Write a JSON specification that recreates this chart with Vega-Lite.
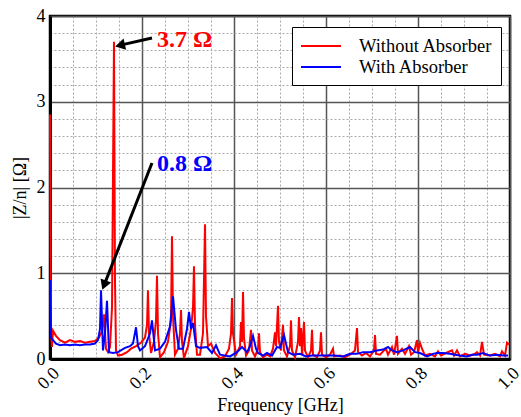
{
  "$schema": "https://vega.github.io/schema/vega-lite/v6.json",
  "width": 460,
  "height": 343,
  "autosize": {"type": "none"},
  "padding": {"left": 50, "top": 16, "right": 11, "bottom": 58},
  "background": "white",
  "config": {
    "view": {"stroke": "black", "strokeWidth": 2.5},
    "font": "Liberation Serif"
  },
  "datasets": {
    "z": [
      {"f": 0, "z": 2.85, "series": "Without Absorber"},
      {"f": 0.0022, "z": 0.30, "series": "Without Absorber"},
      {"f": 0.0043, "z": 0.14, "series": "Without Absorber"},
      {"f": 0.0065, "z": 0.33, "series": "Without Absorber"},
      {"f": 0.013, "z": 0.27, "series": "Without Absorber"},
      {"f": 0.0217, "z": 0.22, "series": "Without Absorber"},
      {"f": 0.0326, "z": 0.19, "series": "Without Absorber"},
      {"f": 0.0435, "z": 0.22, "series": "Without Absorber"},
      {"f": 0.0543, "z": 0.2, "series": "Without Absorber"},
      {"f": 0.0652, "z": 0.21, "series": "Without Absorber"},
      {"f": 0.0761, "z": 0.19, "series": "Without Absorber"},
      {"f": 0.087, "z": 0.2, "series": "Without Absorber"},
      {"f": 0.0978, "z": 0.21, "series": "Without Absorber"},
      {"f": 0.1065, "z": 0.25, "series": "Without Absorber"},
      {"f": 0.113, "z": 0.32, "series": "Without Absorber"},
      {"f": 0.1174, "z": 0.52, "series": "Without Absorber"},
      {"f": 0.1217, "z": 0.12, "series": "Without Absorber"},
      {"f": 0.1261, "z": 0.08, "series": "Without Absorber"},
      {"f": 0.1304, "z": 0.14, "series": "Without Absorber"},
      {"f": 0.1348, "z": 0.6, "series": "Without Absorber"},
      {"f": 0.1391, "z": 3.7, "series": "Without Absorber"},
      {"f": 0.1413, "z": 0.9, "series": "Without Absorber"},
      {"f": 0.1435, "z": 0.1, "series": "Without Absorber"},
      {"f": 0.1478, "z": 0.04, "series": "Without Absorber"},
      {"f": 0.1565, "z": 0.05, "series": "Without Absorber"},
      {"f": 0.1674, "z": 0.08, "series": "Without Absorber"},
      {"f": 0.1761, "z": 0.12, "series": "Without Absorber"},
      {"f": 0.187, "z": 0.15, "series": "Without Absorber"},
      {"f": 0.1978, "z": 0.19, "series": "Without Absorber"},
      {"f": 0.2065, "z": 0.25, "series": "Without Absorber"},
      {"f": 0.2109, "z": 0.4, "series": "Without Absorber"},
      {"f": 0.213, "z": 0.8, "series": "Without Absorber"},
      {"f": 0.2152, "z": 0.3, "series": "Without Absorber"},
      {"f": 0.2196, "z": 0.07, "series": "Without Absorber"},
      {"f": 0.2261, "z": 0.2, "series": "Without Absorber"},
      {"f": 0.2304, "z": 0.45, "series": "Without Absorber"},
      {"f": 0.2326, "z": 0.97, "series": "Without Absorber"},
      {"f": 0.2348, "z": 0.3, "series": "Without Absorber"},
      {"f": 0.2391, "z": 0.02, "series": "Without Absorber"},
      {"f": 0.2478, "z": 0.08, "series": "Without Absorber"},
      {"f": 0.2565, "z": 0.2, "series": "Without Absorber"},
      {"f": 0.263, "z": 0.45, "series": "Without Absorber"},
      {"f": 0.2652, "z": 1.43, "series": "Without Absorber"},
      {"f": 0.2674, "z": 0.5, "series": "Without Absorber"},
      {"f": 0.2717, "z": 0.05, "series": "Without Absorber"},
      {"f": 0.2783, "z": 0.12, "series": "Without Absorber"},
      {"f": 0.2826, "z": 0.3, "series": "Without Absorber"},
      {"f": 0.2848, "z": 0.57, "series": "Without Absorber"},
      {"f": 0.287, "z": 0.2, "series": "Without Absorber"},
      {"f": 0.2913, "z": 0.01, "series": "Without Absorber"},
      {"f": 0.3, "z": 0.15, "series": "Without Absorber"},
      {"f": 0.3065, "z": 0.35, "series": "Without Absorber"},
      {"f": 0.3109, "z": 0.6, "series": "Without Absorber"},
      {"f": 0.313, "z": 1.08, "series": "Without Absorber"},
      {"f": 0.3152, "z": 0.4, "series": "Without Absorber"},
      {"f": 0.3196, "z": 0.05, "series": "Without Absorber"},
      {"f": 0.3261, "z": 0.05, "series": "Without Absorber"},
      {"f": 0.3326, "z": 0.3, "series": "Without Absorber"},
      {"f": 0.337, "z": 1.57, "series": "Without Absorber"},
      {"f": 0.3391, "z": 0.5, "series": "Without Absorber"},
      {"f": 0.3435, "z": 0.15, "series": "Without Absorber"},
      {"f": 0.35, "z": 0.18, "series": "Without Absorber"},
      {"f": 0.3587, "z": 0.07, "series": "Without Absorber"},
      {"f": 0.3696, "z": 0.01, "series": "Without Absorber"},
      {"f": 0.3804, "z": 0.03, "series": "Without Absorber"},
      {"f": 0.3891, "z": 0.12, "series": "Without Absorber"},
      {"f": 0.3935, "z": 0.3, "series": "Without Absorber"},
      {"f": 0.3957, "z": 0.71, "series": "Without Absorber"},
      {"f": 0.3978, "z": 0.3, "series": "Without Absorber"},
      {"f": 0.4043, "z": 0.05, "series": "Without Absorber"},
      {"f": 0.413, "z": 0.15, "series": "Without Absorber"},
      {"f": 0.4152, "z": 0.43, "series": "Without Absorber"},
      {"f": 0.4174, "z": 0.2, "series": "Without Absorber"},
      {"f": 0.4196, "z": 0.78, "series": "Without Absorber"},
      {"f": 0.4217, "z": 0.25, "series": "Without Absorber"},
      {"f": 0.4261, "z": 0.04, "series": "Without Absorber"},
      {"f": 0.4326, "z": 0.1, "series": "Without Absorber"},
      {"f": 0.437, "z": 0.34, "series": "Without Absorber"},
      {"f": 0.4391, "z": 0.1, "series": "Without Absorber"},
      {"f": 0.4457, "z": 0.03, "series": "Without Absorber"},
      {"f": 0.4522, "z": 0.12, "series": "Without Absorber"},
      {"f": 0.4543, "z": 0.3, "series": "Without Absorber"},
      {"f": 0.4565, "z": 0.08, "series": "Without Absorber"},
      {"f": 0.463, "z": 0.02, "series": "Without Absorber"},
      {"f": 0.4717, "z": 0.05, "series": "Without Absorber"},
      {"f": 0.4783, "z": 0.03, "series": "Without Absorber"},
      {"f": 0.4848, "z": 0.12, "series": "Without Absorber"},
      {"f": 0.4891, "z": 0.31, "series": "Without Absorber"},
      {"f": 0.4913, "z": 0.15, "series": "Without Absorber"},
      {"f": 0.4957, "z": 0.62, "series": "Without Absorber"},
      {"f": 0.4978, "z": 0.2, "series": "Without Absorber"},
      {"f": 0.5022, "z": 0.1, "series": "Without Absorber"},
      {"f": 0.5065, "z": 0.4, "series": "Without Absorber"},
      {"f": 0.5087, "z": 0.1, "series": "Without Absorber"},
      {"f": 0.5152, "z": 0.03, "series": "Without Absorber"},
      {"f": 0.5217, "z": 0.15, "series": "Without Absorber"},
      {"f": 0.5239, "z": 0.45, "series": "Without Absorber"},
      {"f": 0.5261, "z": 0.1, "series": "Without Absorber"},
      {"f": 0.5326, "z": 0.02, "series": "Without Absorber"},
      {"f": 0.5391, "z": 0.2, "series": "Without Absorber"},
      {"f": 0.5413, "z": 0.49, "series": "Without Absorber"},
      {"f": 0.5435, "z": 0.15, "series": "Without Absorber"},
      {"f": 0.5457, "z": 0.36, "series": "Without Absorber"},
      {"f": 0.5478, "z": 0.05, "series": "Without Absorber"},
      {"f": 0.5522, "z": 0.43, "series": "Without Absorber"},
      {"f": 0.5543, "z": 0.1, "series": "Without Absorber"},
      {"f": 0.5609, "z": 0.02, "series": "Without Absorber"},
      {"f": 0.5674, "z": 0.1, "series": "Without Absorber"},
      {"f": 0.5696, "z": 0.34, "series": "Without Absorber"},
      {"f": 0.5717, "z": 0.05, "series": "Without Absorber"},
      {"f": 0.5804, "z": 0.02, "series": "Without Absorber"},
      {"f": 0.587, "z": 0.1, "series": "Without Absorber"},
      {"f": 0.5891, "z": 0.31, "series": "Without Absorber"},
      {"f": 0.5913, "z": 0.05, "series": "Without Absorber"},
      {"f": 0.6, "z": 0.02, "series": "Without Absorber"},
      {"f": 0.6087, "z": 0.05, "series": "Without Absorber"},
      {"f": 0.6152, "z": 0.12, "series": "Without Absorber"},
      {"f": 0.6174, "z": 0.03, "series": "Without Absorber"},
      {"f": 0.6304, "z": 0.04, "series": "Without Absorber"},
      {"f": 0.6413, "z": 0.02, "series": "Without Absorber"},
      {"f": 0.6522, "z": 0.05, "series": "Without Absorber"},
      {"f": 0.663, "z": 0.1, "series": "Without Absorber"},
      {"f": 0.6674, "z": 0.36, "series": "Without Absorber"},
      {"f": 0.6696, "z": 0.08, "series": "Without Absorber"},
      {"f": 0.6783, "z": 0.04, "series": "Without Absorber"},
      {"f": 0.687, "z": 0.07, "series": "Without Absorber"},
      {"f": 0.6957, "z": 0.03, "series": "Without Absorber"},
      {"f": 0.7043, "z": 0.1, "series": "Without Absorber"},
      {"f": 0.7065, "z": 0.28, "series": "Without Absorber"},
      {"f": 0.7087, "z": 0.06, "series": "Without Absorber"},
      {"f": 0.7174, "z": 0.05, "series": "Without Absorber"},
      {"f": 0.7261, "z": 0.1, "series": "Without Absorber"},
      {"f": 0.7304, "z": 0.12, "series": "Without Absorber"},
      {"f": 0.7348, "z": 0.05, "series": "Without Absorber"},
      {"f": 0.7435, "z": 0.14, "series": "Without Absorber"},
      {"f": 0.7478, "z": 0.05, "series": "Without Absorber"},
      {"f": 0.7543, "z": 0.27, "series": "Without Absorber"},
      {"f": 0.7565, "z": 0.06, "series": "Without Absorber"},
      {"f": 0.7652, "z": 0.12, "series": "Without Absorber"},
      {"f": 0.7717, "z": 0.06, "series": "Without Absorber"},
      {"f": 0.7804, "z": 0.15, "series": "Without Absorber"},
      {"f": 0.7848, "z": 0.05, "series": "Without Absorber"},
      {"f": 0.7913, "z": 0.08, "series": "Without Absorber"},
      {"f": 0.7978, "z": 0.22, "series": "Without Absorber"},
      {"f": 0.8, "z": 0.08, "series": "Without Absorber"},
      {"f": 0.8043, "z": 0.19, "series": "Without Absorber"},
      {"f": 0.8087, "z": 0.12, "series": "Without Absorber"},
      {"f": 0.8152, "z": 0.04, "series": "Without Absorber"},
      {"f": 0.8261, "z": 0.06, "series": "Without Absorber"},
      {"f": 0.837, "z": 0.03, "series": "Without Absorber"},
      {"f": 0.8435, "z": 0.09, "series": "Without Absorber"},
      {"f": 0.85, "z": 0.04, "series": "Without Absorber"},
      {"f": 0.8609, "z": 0.07, "series": "Without Absorber"},
      {"f": 0.8739, "z": 0.1, "series": "Without Absorber"},
      {"f": 0.8783, "z": 0.04, "series": "Without Absorber"},
      {"f": 0.8848, "z": 0.1, "series": "Without Absorber"},
      {"f": 0.8913, "z": 0.03, "series": "Without Absorber"},
      {"f": 0.9022, "z": 0.06, "series": "Without Absorber"},
      {"f": 0.913, "z": 0.04, "series": "Without Absorber"},
      {"f": 0.9239, "z": 0.06, "series": "Without Absorber"},
      {"f": 0.9283, "z": 0.08, "series": "Without Absorber"},
      {"f": 0.9348, "z": 0.04, "series": "Without Absorber"},
      {"f": 0.9391, "z": 0.2, "series": "Without Absorber"},
      {"f": 0.9435, "z": 0.05, "series": "Without Absorber"},
      {"f": 0.9565, "z": 0.04, "series": "Without Absorber"},
      {"f": 0.9674, "z": 0.06, "series": "Without Absorber"},
      {"f": 0.9783, "z": 0.03, "series": "Without Absorber"},
      {"f": 0.9826, "z": 0.09, "series": "Without Absorber"},
      {"f": 0.9891, "z": 0.04, "series": "Without Absorber"},
      {"f": 0.9935, "z": 0.19, "series": "Without Absorber"},
      {"f": 0.9978, "z": 0.17, "series": "Without Absorber"},
      {"f": 0, "z": 0.92, "series": "With Absorber"},
      {"f": 0.0022, "z": 0.25, "series": "With Absorber"},
      {"f": 0.0065, "z": 0.22, "series": "With Absorber"},
      {"f": 0.013, "z": 0.18, "series": "With Absorber"},
      {"f": 0.0217, "z": 0.16, "series": "With Absorber"},
      {"f": 0.0326, "z": 0.17, "series": "With Absorber"},
      {"f": 0.0435, "z": 0.16, "series": "With Absorber"},
      {"f": 0.0543, "z": 0.17, "series": "With Absorber"},
      {"f": 0.0652, "z": 0.16, "series": "With Absorber"},
      {"f": 0.0761, "z": 0.17, "series": "With Absorber"},
      {"f": 0.087, "z": 0.17, "series": "With Absorber"},
      {"f": 0.0978, "z": 0.18, "series": "With Absorber"},
      {"f": 0.1043, "z": 0.22, "series": "With Absorber"},
      {"f": 0.1087, "z": 0.35, "series": "With Absorber"},
      {"f": 0.1109, "z": 0.8, "series": "With Absorber"},
      {"f": 0.1152, "z": 0.1, "series": "With Absorber"},
      {"f": 0.1196, "z": 0.3, "series": "With Absorber"},
      {"f": 0.1239, "z": 0.68, "series": "With Absorber"},
      {"f": 0.1283, "z": 0.08, "series": "With Absorber"},
      {"f": 0.137, "z": 0.07, "series": "With Absorber"},
      {"f": 0.1478, "z": 0.08, "series": "With Absorber"},
      {"f": 0.163, "z": 0.13, "series": "With Absorber"},
      {"f": 0.1739, "z": 0.15, "series": "With Absorber"},
      {"f": 0.1804, "z": 0.18, "series": "With Absorber"},
      {"f": 0.187, "z": 0.37, "series": "With Absorber"},
      {"f": 0.1913, "z": 0.15, "series": "With Absorber"},
      {"f": 0.1957, "z": 0.1, "series": "With Absorber"},
      {"f": 0.2065, "z": 0.15, "series": "With Absorber"},
      {"f": 0.2174, "z": 0.3, "series": "With Absorber"},
      {"f": 0.2217, "z": 0.45, "series": "With Absorber"},
      {"f": 0.2283, "z": 0.1, "series": "With Absorber"},
      {"f": 0.2391, "z": 0.12, "series": "With Absorber"},
      {"f": 0.25, "z": 0.2, "series": "With Absorber"},
      {"f": 0.2609, "z": 0.38, "series": "With Absorber"},
      {"f": 0.2674, "z": 0.73, "series": "With Absorber"},
      {"f": 0.2739, "z": 0.34, "series": "With Absorber"},
      {"f": 0.2804, "z": 0.12, "series": "With Absorber"},
      {"f": 0.2891, "z": 0.12, "series": "With Absorber"},
      {"f": 0.2978, "z": 0.35, "series": "With Absorber"},
      {"f": 0.3022, "z": 0.55, "series": "With Absorber"},
      {"f": 0.3065, "z": 0.35, "series": "With Absorber"},
      {"f": 0.3109, "z": 0.42, "series": "With Absorber"},
      {"f": 0.3174, "z": 0.15, "series": "With Absorber"},
      {"f": 0.3261, "z": 0.13, "series": "With Absorber"},
      {"f": 0.3413, "z": 0.14, "series": "With Absorber"},
      {"f": 0.3522, "z": 0.07, "series": "With Absorber"},
      {"f": 0.3609, "z": 0.16, "series": "With Absorber"},
      {"f": 0.3696, "z": 0.05, "series": "With Absorber"},
      {"f": 0.3913, "z": 0.03, "series": "With Absorber"},
      {"f": 0.4065, "z": 0.08, "series": "With Absorber"},
      {"f": 0.4174, "z": 0.14, "series": "With Absorber"},
      {"f": 0.4283, "z": 0.08, "series": "With Absorber"},
      {"f": 0.4348, "z": 0.15, "series": "With Absorber"},
      {"f": 0.4413, "z": 0.27, "series": "With Absorber"},
      {"f": 0.4478, "z": 0.12, "series": "With Absorber"},
      {"f": 0.4522, "z": 0.07, "series": "With Absorber"},
      {"f": 0.463, "z": 0.04, "series": "With Absorber"},
      {"f": 0.4717, "z": 0.07, "series": "With Absorber"},
      {"f": 0.4826, "z": 0.04, "series": "With Absorber"},
      {"f": 0.4935, "z": 0.14, "series": "With Absorber"},
      {"f": 0.5, "z": 0.13, "series": "With Absorber"},
      {"f": 0.5087, "z": 0.28, "series": "With Absorber"},
      {"f": 0.5174, "z": 0.08, "series": "With Absorber"},
      {"f": 0.5283, "z": 0.05, "series": "With Absorber"},
      {"f": 0.5435, "z": 0.06, "series": "With Absorber"},
      {"f": 0.5565, "z": 0.03, "series": "With Absorber"},
      {"f": 0.5696, "z": 0.04, "series": "With Absorber"},
      {"f": 0.587, "z": 0.04, "series": "With Absorber"},
      {"f": 0.6022, "z": 0.04, "series": "With Absorber"},
      {"f": 0.6196, "z": 0.04, "series": "With Absorber"},
      {"f": 0.637, "z": 0.03, "series": "With Absorber"},
      {"f": 0.6522, "z": 0.06, "series": "With Absorber"},
      {"f": 0.6674, "z": 0.06, "series": "With Absorber"},
      {"f": 0.6804, "z": 0.08, "series": "With Absorber"},
      {"f": 0.6957, "z": 0.08, "series": "With Absorber"},
      {"f": 0.7109, "z": 0.1, "series": "With Absorber"},
      {"f": 0.7239, "z": 0.11, "series": "With Absorber"},
      {"f": 0.7348, "z": 0.14, "series": "With Absorber"},
      {"f": 0.7435, "z": 0.1, "series": "With Absorber"},
      {"f": 0.7543, "z": 0.08, "series": "With Absorber"},
      {"f": 0.7674, "z": 0.1, "series": "With Absorber"},
      {"f": 0.7826, "z": 0.14, "series": "With Absorber"},
      {"f": 0.7935, "z": 0.08, "series": "With Absorber"},
      {"f": 0.8043, "z": 0.07, "series": "With Absorber"},
      {"f": 0.8196, "z": 0.03, "series": "With Absorber"},
      {"f": 0.8326, "z": 0.06, "series": "With Absorber"},
      {"f": 0.8413, "z": 0.07, "series": "With Absorber"},
      {"f": 0.8543, "z": 0.07, "series": "With Absorber"},
      {"f": 0.8696, "z": 0.06, "series": "With Absorber"},
      {"f": 0.8804, "z": 0.05, "series": "With Absorber"},
      {"f": 0.8913, "z": 0.04, "series": "With Absorber"},
      {"f": 0.9065, "z": 0.03, "series": "With Absorber"},
      {"f": 0.9174, "z": 0.05, "series": "With Absorber"},
      {"f": 0.9283, "z": 0.05, "series": "With Absorber"},
      {"f": 0.9413, "z": 0.07, "series": "With Absorber"},
      {"f": 0.9565, "z": 0.04, "series": "With Absorber"},
      {"f": 0.9717, "z": 0.05, "series": "With Absorber"},
      {"f": 0.9848, "z": 0.04, "series": "With Absorber"},
      {"f": 0.9957, "z": 0.04, "series": "With Absorber"}
    ],
    "notes": [
      {"f": 0.2326, "z": 3.72, "label": "3.7 Ω", "which": "red"},
      {"f": 0.2326, "z": 2.27, "label": "0.8 Ω", "which": "blue"}
    ],
    "arrows": [
      {"f": 0.2217, "z": 3.743, "f2": 0.1557, "z2": 3.663, "which": "red"},
      {"f": 0.2217, "z": 2.286, "f2": 0.1189, "z2": 0.879, "which": "blue"}
    ]
  },
  "layer": [
    {
      "data": {"name": "z"},
      "mark": {"type": "line", "opacity": 0},
      "encoding": {
        "x": {
          "field": "f", "type": "quantitative",
          "scale": {"domain": [0, 1], "nice": false, "zero": false},
          "axis": {
            "orient": "bottom",
            "values": [0.05, 0.1, 0.15, 0.25, 0.3, 0.35, 0.45, 0.5, 0.55, 0.65, 0.7, 0.75, 0.85, 0.9, 0.95],
            "grid": true, "gridDash": [2, 2], "gridColor": "#a8a8a8", "gridWidth": 1,
            "labels": false, "ticks": false, "domain": false, "title": null
          }
        },
        "y": {
          "field": "z", "type": "quantitative",
          "scale": {"domain": [0, 4], "nice": false},
          "axis": {
            "orient": "left",
            "values": [0.2, 0.4, 0.6, 0.8, 1.2, 1.4, 1.6, 1.8, 2.2, 2.4, 2.6, 2.8, 3.2, 3.4, 3.6, 3.8],
            "grid": true, "gridDash": [2, 2], "gridColor": "#a8a8a8", "gridWidth": 1,
            "labels": false, "ticks": false, "domain": false, "title": null
          }
        },
        "detail": {"field": "series"}
      }
    },
    {
      "data": {"name": "z"},
      "mark": {"type": "line", "strokeWidth": 2},
      "encoding": {
        "x": {
          "field": "f", "type": "quantitative",
          "scale": {"domain": [0, 1], "nice": false, "zero": false},
          "axis": {
            "orient": "bottom",
            "values": [0, 0.2, 0.4, 0.6, 0.8, 1.0],
            "format": ".1f",
            "grid": true, "gridColor": "#555555", "gridWidth": 1.5,
            "domain": true, "domainColor": "black", "domainWidth": 3,
            "ticks": false,
            "labelAngle": -45, "labelFont": "Liberation Serif", "labelFontSize": 18, "labelColor": "black",
            "labelPadding": 5,
            "title": "Frequency [GHz]", "titleFont": "Liberation Serif", "titleFontSize": 18,
            "titleFontWeight": "normal", "titleColor": "black", "titlePadding": 4
          }
        },
        "y": {
          "field": "z", "type": "quantitative",
          "scale": {"domain": [0, 4], "nice": false},
          "axis": {
            "orient": "left",
            "values": [0, 1, 2, 3, 4],
            "format": "d",
            "grid": true, "gridColor": "#555555", "gridWidth": 1.5,
            "domain": true, "domainColor": "black", "domainWidth": 3,
            "ticks": false,
            "labelFont": "Liberation Serif", "labelFontSize": 18, "labelColor": "black", "labelPadding": 5,
            "title": "|Z/n| [Ω]", "titleFont": "Liberation Serif", "titleFontSize": 18,
            "titleFontWeight": "normal", "titleColor": "black", "titlePadding": 7
          }
        },
        "color": {
          "field": "series", "type": "nominal",
          "scale": {"domain": ["Without Absorber", "With Absorber"], "range": ["#ff0000", "#0000ff"]},
          "legend": {
            "orient": "none", "legendX": 242, "legendY": 11,
            "title": null, "symbolType": "M-1,0L3,0", "symbolSize": 400, "symbolStrokeWidth": 2,
            "labelFont": "Liberation Serif", "labelFontSize": 18.5, "labelColor": "black",
            "labelOffset": 37, "labelLimit": 0, "rowPadding": -2,
            "padding": 8, "strokeColor": "black", "fillColor": "white"
          }
        },
        "order": {"field": "series", "sort": "descending"}
      }
    },
    {
      "data": {"name": "arrows"},
      "mark": {"type": "rule", "strokeWidth": 3, "color": "black"},
      "encoding": {
        "x": {"field": "f", "type": "quantitative", "axis": null},
        "y": {"field": "z", "type": "quantitative", "axis": null},
        "x2": {"field": "f2"},
        "y2": {"field": "z2"}
      }
    },
    {
      "data": {"name": "arrows"},
      "transform": [{"filter": "datum.which == 'red'"}],
      "mark": {"type": "point", "shape": "triangle", "filled": true, "color": "black", "opacity": 1, "size": 130, "angle": 257},
      "encoding": {
        "x": {"field": "f2", "type": "quantitative", "axis": null},
        "y": {"field": "z2", "type": "quantitative", "axis": null}
      }
    },
    {
      "data": {"name": "arrows"},
      "transform": [{"filter": "datum.which == 'blue'"}],
      "mark": {"type": "point", "shape": "triangle", "filled": true, "color": "black", "opacity": 1, "size": 130, "angle": 201},
      "encoding": {
        "x": {"field": "f2", "type": "quantitative", "axis": null},
        "y": {"field": "z2", "type": "quantitative", "axis": null}
      }
    },
    {
      "data": {"name": "notes"},
      "transform": [{"filter": "datum.which == 'red'"}],
      "mark": {"type": "text", "align": "left", "baseline": "middle", "font": "Liberation Serif", "fontSize": 24, "fontWeight": "bold", "color": "#ff0000"},
      "encoding": {
        "x": {"field": "f", "type": "quantitative", "axis": null},
        "y": {"field": "z", "type": "quantitative", "axis": null},
        "text": {"field": "label"}
      }
    },
    {
      "data": {"name": "notes"},
      "transform": [{"filter": "datum.which == 'blue'"}],
      "mark": {"type": "text", "align": "left", "baseline": "middle", "font": "Liberation Serif", "fontSize": 24, "fontWeight": "bold", "color": "#0000ff"},
      "encoding": {
        "x": {"field": "f", "type": "quantitative", "axis": null},
        "y": {"field": "z", "type": "quantitative", "axis": null},
        "text": {"field": "label"}
      }
    }
  ],
  "resolve": {"axis": {"x": "independent", "y": "independent"}}
}
